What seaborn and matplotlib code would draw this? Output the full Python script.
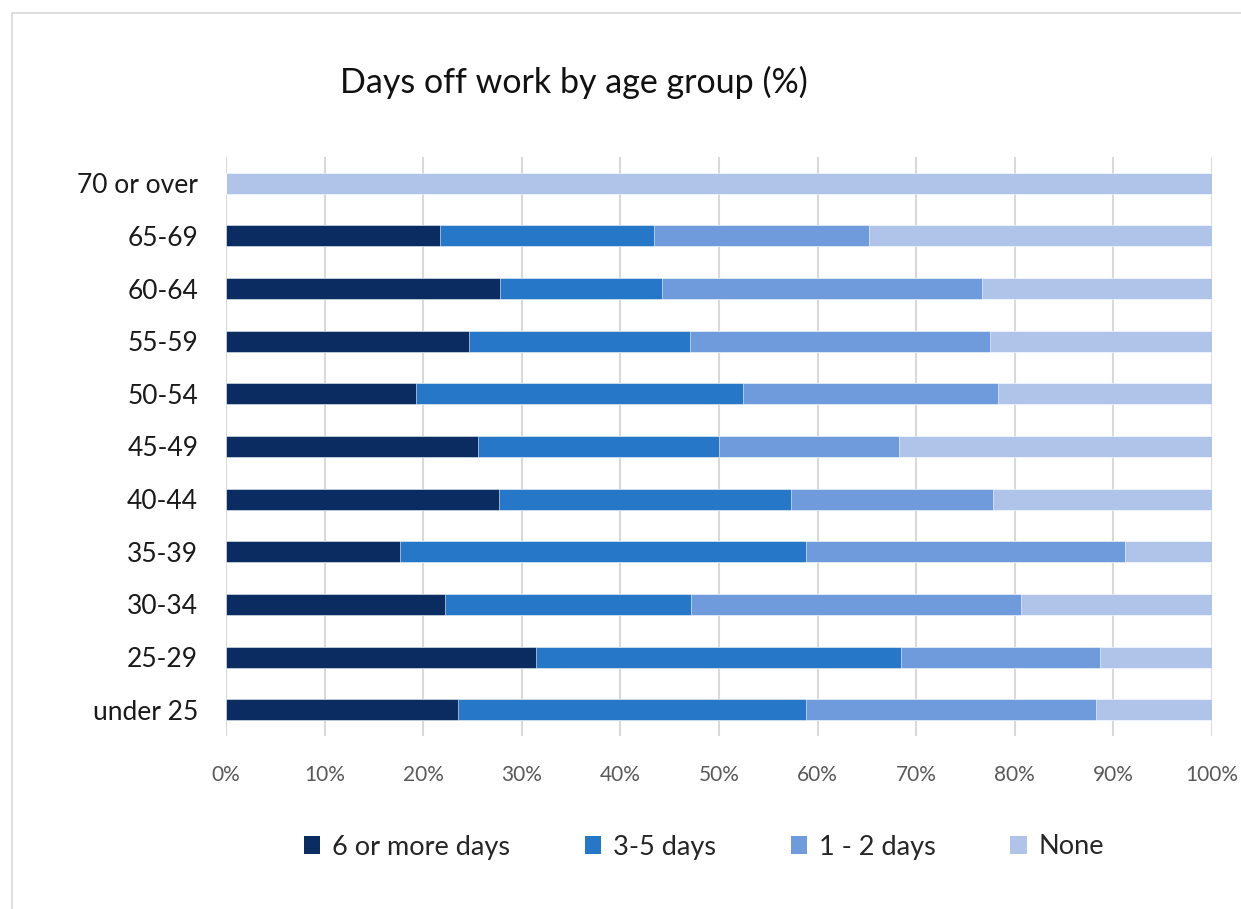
import matplotlib
matplotlib.use("Agg")
import matplotlib.pyplot as plt
from matplotlib.patches import Patch, Rectangle
import numpy as np
import pandas as pd
import seaborn as sns

# Age groups, top to bottom
age_groups = ["70 or over", "65-69", "60-64", "55-59", "50-54", "45-49",
              "40-44", "35-39", "30-34", "25-29", "under 25"]

# Share of workers (%) by days off work
six_or_more = [0.0, 21.7, 27.8, 24.6, 19.3, 25.6, 27.7, 17.6, 22.2, 31.4, 23.5]
three_to_five = [0.0, 21.7, 16.4, 22.5, 33.1, 24.4, 29.6, 41.2, 25.0, 37.1, 35.3]
one_to_two = [0.0, 21.8, 32.5, 30.4, 25.9, 18.3, 20.5, 32.4, 33.4, 20.1, 29.4]
none = [100.0, 34.8, 23.3, 22.5, 21.7, 31.7, 22.2, 8.8, 19.4, 11.4, 11.8]

series_names = ["6 or more days", "3-5 days", "1 - 2 days", "None"]
series_values = [six_or_more, three_to_five, one_to_two, none]
colors = ["#0a2c60", "#2677c7", "#6f9bdc", "#b0c4e9"]
tick_labels = ["0%", "10%", "20%", "30%", "40%", "50%", "60%", "70%", "80%", "90%", "100%"]

sns.set_theme(style="white")
plt.rcParams["font.family"] = ["Lato", "DejaVu Sans"]

W, H = 1241, 909
fig = plt.figure(figsize=(W / 100, H / 100), dpi=100)
fig.patch.set_facecolor("white")

# chart frame (runs past right and bottom edges)
fig.add_artist(Rectangle((12 / W, -0.01), 1.02, 1 - 13 / H + 0.01,
                         transform=fig.transFigure, fill=False,
                         edgecolor="#d9d9d9", linewidth=1.2))

ax = fig.add_axes([226 / W, 1 - 736 / H, (1212 - 226) / W, (736 - 157) / H])

df = pd.DataFrame({"age": age_groups})
cum = np.zeros(len(age_groups))
cums = []
for vals in series_values:
    cum = cum + np.array(vals)
    cums.append(cum.copy())

# draw stacked bars from the outermost cumulative total inward
for name, c, col in reversed(list(zip(series_names, cums, colors))):
    d = df.assign(val=np.minimum(c, 100.0))
    sns.barplot(data=d, x="val", y="age", order=age_groups, orient="h",
                color=col, width=0.4, saturation=1, ax=ax,
                edgecolor="white", linewidth=0.4)

ax.set_xlim(0, 100)
ax.set_ylim(10.5, -0.5)
ax.set_xticks(np.arange(0, 101, 10))
ax.set_xticklabels(tick_labels)
ax.grid(axis="x", color="#d9d9d9", linewidth=1.5)
ax.set_axisbelow(True)
for s in ax.spines.values():
    s.set_visible(False)
ax.set_xlabel("")
ax.set_ylabel("")
ax.tick_params(axis="x", length=0, pad=21, labelsize=15, labelcolor="#595959")
ax.tick_params(axis="y", length=0, pad=20, labelsize=19, labelcolor="#1a1a1a")

fig.text(574 / W, 1 - 82 / H, "Days off work by age group (%)",
         ha="center", va="center", fontsize=24.5, color="#111111")

handles = [Patch(facecolor=col, edgecolor="none", label=n)
           for n, col in zip(series_names, colors)]
fig.legend(handles=handles, loc="center", bbox_to_anchor=(704 / W, 1 - 847 / H),
           ncol=4, frameon=False, fontsize=19.5, handlelength=0.6,
           handleheight=0.6, handletextpad=0.45, columnspacing=2.75)

fig.savefig("out.png", dpi=100, facecolor="white")
